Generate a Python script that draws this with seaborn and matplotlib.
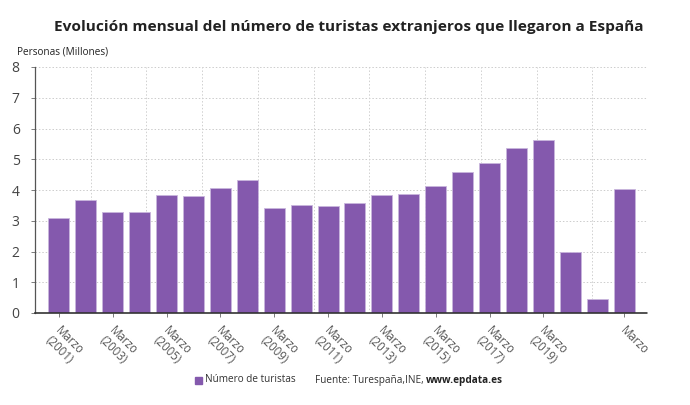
import matplotlib
matplotlib.use("Agg")
import matplotlib.pyplot as plt
import seaborn as sns
import pandas as pd
import numpy as np

years = list(range(2001, 2023))
values = [3.10, 3.66, 3.29, 3.27, 3.83, 3.81, 4.05, 4.31, 3.42, 3.52, 3.48,
          3.58, 3.85, 3.88, 4.13, 4.60, 4.89, 5.37, 5.62, 1.98, 0.47, 4.02]
tick_idx = [0, 2, 4, 6, 8, 10, 12, 14, 16, 18, 21]
tick_labels = ["Marzo\n(2001)", "Marzo\n(2003)", "Marzo\n(2005)", "Marzo\n(2007)",
               "Marzo\n(2009)", "Marzo\n(2011)", "Marzo\n(2013)", "Marzo\n(2015)",
               "Marzo\n(2017)", "Marzo\n(2019)", "Marzo"]
series_name = "Número de turistas"
color = "#8459ad"

df = pd.DataFrame({"year": [str(y) for y in years], "value": values})

sns.set_theme(style="white")
plt.rcParams['font.family'] = ['Open Sans', 'DejaVu Sans']

fig = plt.figure(figsize=(6.9, 4.05), dpi=100)
ax = fig.add_axes([35/690, 1-313/405, (648-35)/690, (313-67)/405])

sns.barplot(data=df, x="year", y="value", color=color, saturation=1, width=0.78,
            edgecolor="#c9b6dd", linewidth=0.6, ax=ax)

ax.set_xlim(-0.89, 21.89)
ax.set_ylim(0, 8)
ax.set_yticks(range(0, 9))
ax.set_yticklabels([str(i) for i in range(0, 9)], fontsize=10, color="#444444")
ax.set_xticks(tick_idx)
ax.set_xticklabels(tick_labels, rotation=-45, ha="left", va="top",
                   rotation_mode="anchor", fontsize=8.3, color="#555555", linespacing=1.1)
for lab in ax.get_xticklabels():
    lab.set_x(lab.get_position()[0])
ax.set_xlabel("")
ax.set_ylabel("")

# grid
for y in range(1, 9):
    ax.axhline(y, color="#cccccc", lw=0.7, ls=(0, (1.5, 2)), zorder=0)
x0, x1 = ax.get_xlim()
for gx in np.linspace(x0, x1, 12)[1:]:
    ax.axvline(gx, color="#d0d0d0", lw=0.7, ls=(0, (1.5, 2)), zorder=0)

for s in ["top", "right"]:
    ax.spines[s].set_visible(False)
ax.spines["left"].set_color("#555555")
ax.spines["left"].set_linestyle((0, (1, 1)))
ax.spines["left"].set_linewidth(0.9)
ax.spines["bottom"].set_color("#333333")
ax.spines["bottom"].set_linestyle((0, (1, 1)))
ax.spines["bottom"].set_linewidth(1.2)
ax.tick_params(axis="y", length=3, width=0.6, color="#666666", pad=8, left=True)
ax.tick_params(axis="x", length=3, width=0.6, color="#666666", pad=5, bottom=True)

# shift x tick labels slightly right
import matplotlib.transforms as mtransforms
offset = mtransforms.ScaledTranslation(3/100, 0, fig.dpi_scale_trans)
for lab in ax.get_xticklabels():
    lab.set_transform(lab.get_transform() + offset)

fig.text(349/690, 1-27/405, "Evolución mensual del número de turistas extranjeros que llegaron a España",
         ha="center", va="center", fontsize=11.1, fontweight="bold", color="#222222")
fig.text(17/690, 1-52/405, "Personas (Millones)", ha="left", va="center", fontsize=7.2, color="#222222")

# legend
fig.patches.append(matplotlib.patches.Rectangle((195/690, 1-384/405), 7.5/690, 7.5/405,
                   transform=fig.transFigure, color=color, figure=fig))
fig.text(205/690, 1-380/405, series_name, ha="left", va="center", fontsize=7.2, color="#333333")
t1 = fig.text(315/690, 1-380/405, "Fuente: Turespaña,INE, ", ha="left", va="center",
              fontsize=7.2, color="#333333")
fig.canvas.draw()
bb = t1.get_window_extent()
fig.text(bb.x1/fig.bbox.width, 1-380/405, "www.epdata.es", ha="left", va="center",
         fontsize=7.2, fontweight="bold", color="#222222")

fig.savefig("out.png", dpi=100, facecolor="white")
